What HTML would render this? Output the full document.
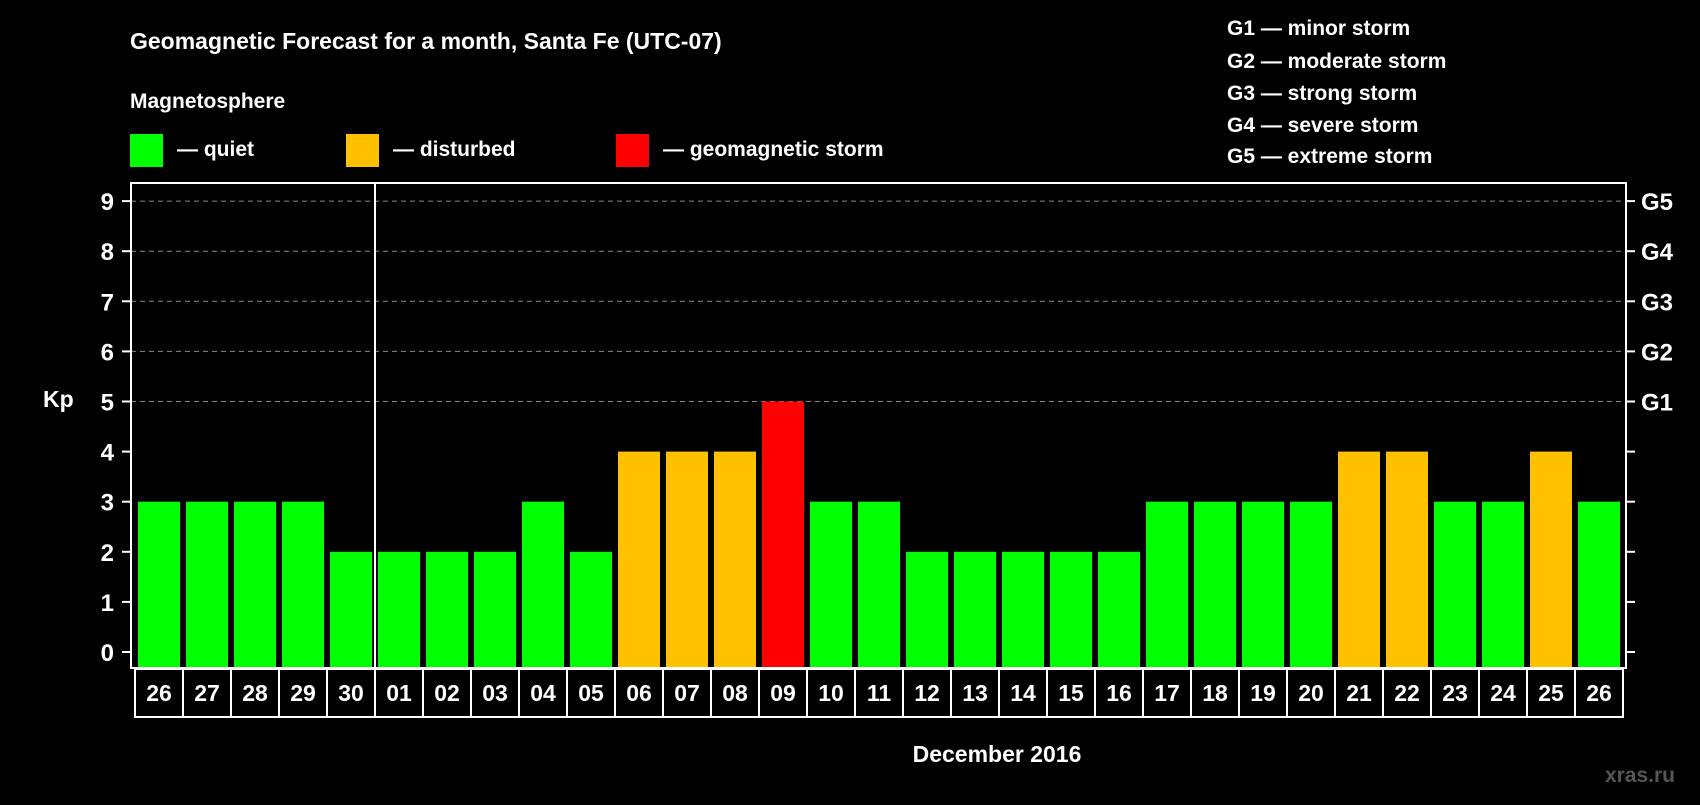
<!DOCTYPE html>
<html><head><meta charset="utf-8"><style>
body{margin:0;background:#000;width:1700px;height:800px;overflow:hidden;font-family:"Liberation Sans",sans-serif;font-weight:bold;color:#fff}
</style></head><body>
<svg id="c" width="1700" height="800" xmlns="http://www.w3.org/2000/svg" font-family="Liberation Sans, sans-serif" font-weight="bold">
<text x="130" y="49" font-size="23" fill="#fff">Geomagnetic Forecast for a month, Santa Fe (UTC-07)</text>
<text x="130" y="108" font-size="21" fill="#fff">Magnetosphere</text>
<rect x="130" y="134" width="33" height="33" fill="#00ff00"/>
<text x="177" y="156" font-size="21" fill="#fff">— quiet</text>
<rect x="346" y="134" width="33" height="33" fill="#ffc000"/>
<text x="393" y="156" font-size="21" fill="#fff">— disturbed</text>
<rect x="616" y="134" width="33" height="33" fill="#ff0000"/>
<text x="663" y="156" font-size="21" fill="#fff">— geomagnetic storm</text>
<g font-size="21" fill="#fff">
<text x="1227" y="35">G1 — minor storm</text>
<text x="1227" y="68">G2 — moderate storm</text>
<text x="1227" y="100">G3 — strong storm</text>
<text x="1227" y="132">G4 — severe storm</text>
<text x="1227" y="163">G5 — extreme storm</text>
</g>
<text x="43" y="407" font-size="23" fill="#fff">Kp</text>
<text x="997" y="762" font-size="23" fill="#fff" text-anchor="middle">December 2016</text>
<text x="1675" y="782" font-size="21" fill="#555" text-anchor="end">xras.ru</text>
<g id="grid"></g><g id="bars"></g><g id="axes"></g><g id="labels"></g>
</svg>
<script>
const categories=["26","27","28","29","30","01","02","03","04","05","06","07","08","09","10","11","12","13","14","15","16","17","18","19","20","21","22","23","24","25","26"];
const kpValues=[3,3,3,3,2,2,2,2,3,2,4,4,4,5,3,3,2,2,2,2,2,3,3,3,3,4,4,3,3,4,3];
const yTicks=[0,1,2,3,4,5,6,7,8,9];
const gLabels=["G1","G2","G3","G4","G5"];
const monthBoundaryIndex=5;
const NS="http://www.w3.org/2000/svg";
const L=131,R=1626,T=183,B=668,X0=138,P=48,BW=42;
const y=v=>652-v*50.1;
const x=i=>X0+i*P;
function mk(t,a,parent){const e=document.createElementNS(NS,t);for(const k in a)e.setAttribute(k,a[k]);document.getElementById(parent).appendChild(e);return e;}
yTicks.forEach(v=>{
  if(v>=5){const g=mk('line',{x1:L,x2:R,y1:y(v),y2:y(v),stroke:'#888','stroke-dasharray':'5,4','stroke-width':1},'grid');
    
    }
  const t1=mk('line',{x1:L-9,x2:L,y1:y(v),y2:y(v),stroke:'#fff','stroke-width':2},'axes');
  
  
  const t2=mk('line',{x1:R,x2:R+9,y1:y(v),y2:y(v),stroke:'#fff','stroke-width':2},'axes');
  
  
  const lb=mk('text',{x:114,y:y(v)+9,'font-size':24,fill:'#fff','text-anchor':'end'},'labels');
  lb.textContent=v;
  
  
  if(v>=5){const g=mk('text',{x:1641,y:y(v)+9,'font-size':24,fill:'#fff'},'labels');
    g.textContent=gLabels[v-5];
    
    }
});
kpValues.forEach((v,i)=>{
  const c=v>=5?'#ff0000':(v>=4?'#ffc000':'#00ff00');
  const b=mk('rect',{x:x(i),y:y(v),width:BW,height:B-y(v),fill:c},'bars');
  
  
  const cx=135+i*P;
  const cell=mk('rect',{x:cx,y:669,width:P,height:48,fill:'none',stroke:'#fff','stroke-width':2},'labels');
  
  
  const t=mk('text',{x:cx+P/2,y:701,'font-size':23,fill:'#fff','text-anchor':'middle'},'labels');
  t.textContent=categories[i];
  
  
});
const fr=mk('rect',{x:L,y:T,width:R-L,height:B-T,fill:'none',stroke:'#fff','stroke-width':2},'axes');


const sx=x(monthBoundaryIndex)-3;
const sep=mk('line',{x1:sx,x2:sx,y1:T,y2:B,stroke:'#fff','stroke-width':2},'axes');


</script>
</body></html>
